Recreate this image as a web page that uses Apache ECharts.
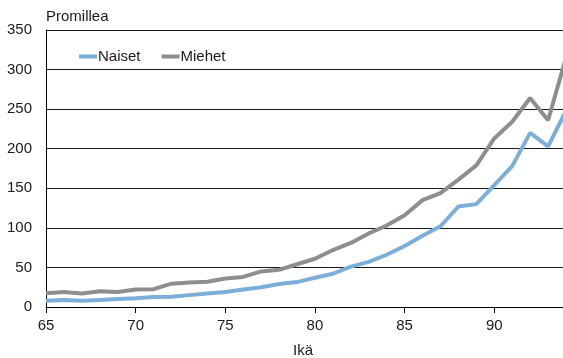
<!DOCTYPE html>
<html>
<head>
<meta charset="utf-8">
<script src="https://cdn.jsdelivr.net/npm/echarts@6/dist/echarts.min.js"></script>
<style>
html, body { margin: 0; padding: 0; background: #fff; }
#chart { width: 563px; height: 358px; }
</style>
</head>
<body>
<div id="chart"></div>
<script>
// ikä 65..94
var ages = [];
for (var a = 65; a <= 94; a++) ages.push(String(a));

var naiset = [8, 9, 8, 9, 10, 11, 12.5, 13, 15, 17, 19, 22, 25, 29, 31.5,
	37, 42, 51, 57, 66, 77, 90, 102, 127, 130, 154, 178, 220, 203, 248];
var miehet = [17.5, 19, 17, 20, 19, 22, 22.5, 29.5, 31, 32, 36, 38, 45, 47, 54,
	61, 72, 81, 93, 103, 116, 135, 144, 161, 179, 213, 234, 264, 236, 315];

var yTicks = [0, 50, 100, 150, 200, 250, 300, 350];

var fnt = '"Liberation Sans", Arial, sans-serif';
var txtColor = '#1a1a1a';

var chart = echarts.init(document.getElementById('chart'));

var option = {
	animation: false,
	grid: { left: 46, right: -3, top: 30, bottom: 51, containLabel: false, outerBoundsMode: 'none' },
	legend: {
		left: 79, top: 49, padding: 0,
		itemWidth: 18, itemHeight: 4, itemGap: 21,
		icon: 'rect',
		textStyle: { fontFamily: fnt, fontSize: 15, color: txtColor, padding: [0, 0, 0, -4] },
		data: ['Naiset', 'Miehet']
	},
	xAxis: {
		type: 'category',
		data: ages,
		boundaryGap: false,
		name: 'Ikä',
		nameLocation: 'middle',
		nameGap: 36,
		nameTextStyle: { fontFamily: fnt, fontSize: 15, color: txtColor, padding: [0, 6, 0, 0] },
		axisLine: { lineStyle: { color: '#000', width: 1 } },
		axisTick: { interval: 4, length: 6, lineStyle: { color: '#000' } },
		axisLabel: { interval: 4, margin: 11, fontFamily: fnt, fontSize: 15, color: txtColor },
		splitLine: { show: false }
	},
	yAxis: {
		type: 'value',
		min: yTicks[0], max: yTicks[yTicks.length - 1], interval: 50,
		name: 'Promillea',
		nameLocation: 'end',
		nameGap: 6,
		nameTextStyle: { fontFamily: fnt, fontSize: 15, color: txtColor, align: 'left' },
		axisLine: { show: true, lineStyle: { color: '#000', width: 1 } },
		axisTick: { show: false },
		axisLabel: { margin: 14, fontFamily: fnt, fontSize: 15, color: txtColor },
		splitLine: { lineStyle: { color: '#1a1a1a', width: 1 } }
	},
	series: [
		{
			name: 'Naiset', type: 'line', data: naiset,
			symbol: 'none', color: '#7bafd9',
			lineStyle: { width: 4, color: '#7bafd9' }
		},
		{
			name: 'Miehet', type: 'line', data: miehet,
			symbol: 'none', color: '#8e8e8e',
			lineStyle: { width: 4, color: '#8e8e8e' }
		}
	]
};

chart.setOption(option);
</script>
</body>
</html>
